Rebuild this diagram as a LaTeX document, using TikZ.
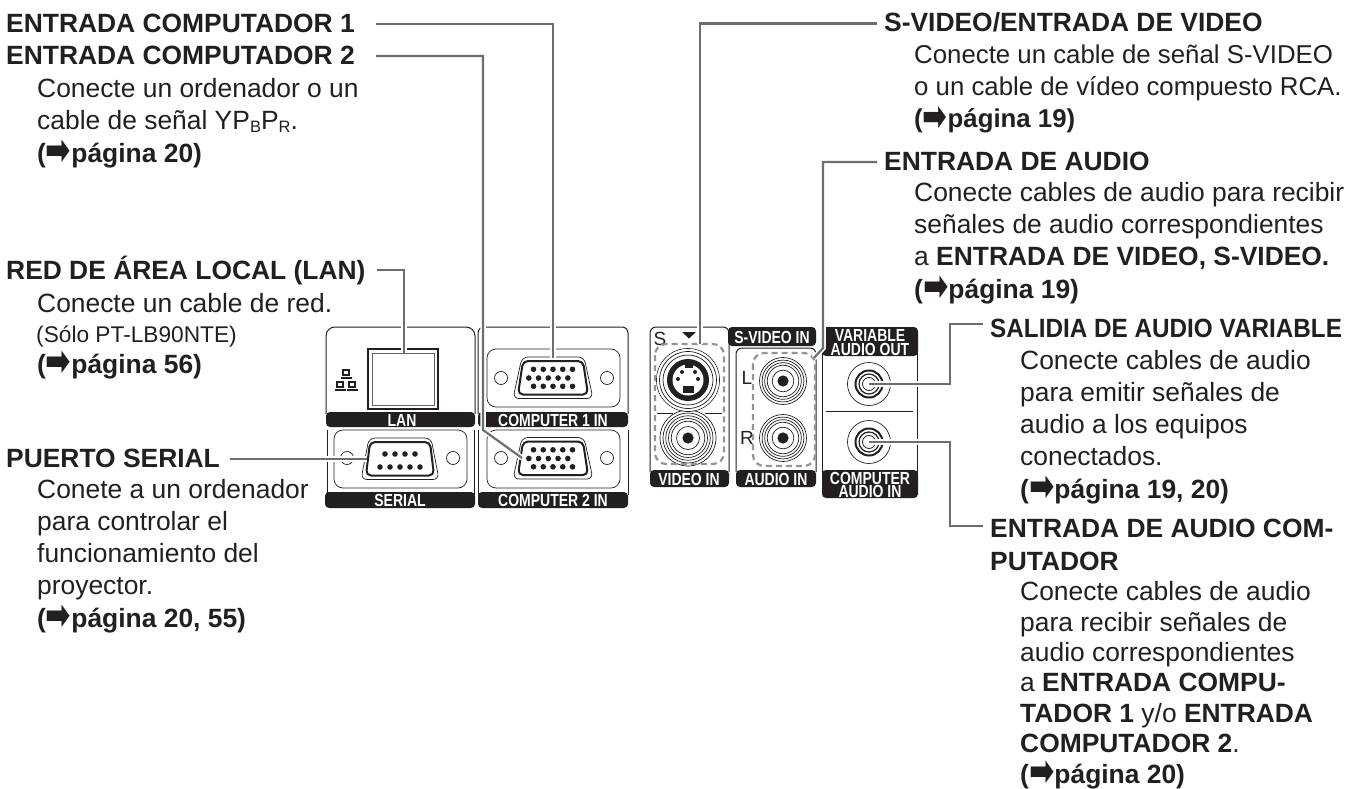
\documentclass[tikz,border=0pt]{standalone}
\usepackage{graphicx}
\usepackage{fontspec}
\setmainfont{Liberation Sans}
\newfontfamily\condfont[FakeStretch=0.8]{Liberation Sans}
\newfontfamily\symfont{DejaVu Sans}
\usetikzlibrary{positioning}
\definecolor{ink}{HTML}{231F20}
\definecolor{leader}{HTML}{6D6E71}
\definecolor{dashgrey}{HTML}{939598}
\newcommand{\pg}[1]{\textbf{(\smash{\raisebox{-0.11em}{\scalebox{1.15}[1.6]{\symfont\char"27A1}}}página #1)}}
\newcommand{\lowsub}[1]{\raisebox{-0.12em}{\fontsize{16.5}{16.5}\selectfont #1}}
\tikzset{
  txt/.style={anchor=base west,inner sep=0pt,align=left,text=ink,font=\fontsize{26.4}{32.2}\selectfont},
  head/.style={txt,font=\fontsize{26.4}{32.6}\selectfont\bfseries},
  small/.style={txt,font=\fontsize{22.7}{32}\selectfont},
  narrowtxt/.style={txt,font=\fontsize{25.8}{32}\selectfont},
  tighttxt/.style={txt,font=\fontsize{26.4}{30.4}\selectfont},
  band/.style={fill=ink,draw=none,rounded corners=4pt},
  bandtext/.style={text=white,inner sep=0pt,align=center,yshift=-0.4pt,font=\fontsize{17.5}{13.5}\selectfont\condfont\bfseries},
  edge/.style={draw=ink,line width=1pt,rounded corners=6pt},
  inner/.style={draw=ink,line width=0.7pt,rounded corners=9pt},
  leaderline/.style={draw=leader,line width=2.2pt,preaction={draw=white,line width=5.5pt}},
  dashbox/.style={draw=dashgrey,line width=2.2pt,dash pattern=on 6pt off 4pt,rounded corners=11pt},
  portlabel/.style={inner sep=0pt,text=ink,font=\fontsize{19}{19}\selectfont}
}
% D-sub shell: centre x, centre y, half width top, half width bottom
\newcommand{\dsub}[4]{
  \draw[ink,line width=0.7pt,rounded corners=6pt] (#1-#4-5,#2+20.5) -- (#1-#3-1,#2-21) -- (#1+#3+1,#2-21) -- (#1+#4+5,#2+20.5) -- cycle;
  \draw[ink,line width=2pt,rounded corners=5pt] (#1-#4,#2+16.5) -- (#1-#3,#2-17) -- (#1+#3,#2-17) -- (#1+#4,#2+16.5) -- cycle;
}
\newcommand{\vgapins}[2]{
  \foreach \dx in {-19.5,-9.75,0,9.75,19.5}{
    \fill[ink] (#1+\dx,#2-8.7) circle (2.8);
    \fill[ink] (#1+\dx,#2+8.3) circle (2.8);
    \fill[ink] (#1+\dx-4.7,#2) circle (2.8);
  }
}
\newcommand{\rca}[3]{
  \foreach \r in {#3,#3*0.89,#3*0.78,#3*0.67,#3*0.46}{\draw[ink,line width=0.7pt,fill=white] (#1,#2) circle (\r);}
  \fill[ink] (#1,#2) circle (5.6);
}
\newcommand{\jack}[2]{
  \draw[ink,line width=0.7pt] (#1,#2) circle (21.5);
  \draw[ink,line width=2pt] (#1,#2) circle (13.5);
  \draw[ink,line width=1.2pt] (#1,#2) circle (10);
  \draw[ink,line width=0.8pt] (#1,#2) circle (6.5);
}
\newcommand{\minipc}[2]{
  \fill[ink] (#1-4,#2-4) rectangle (#1+4,#2+3);
  \fill[white] (#1-2,#2-2) rectangle (#1+2,#2+1);
  \fill[ink] (#1-5.5,#2+3.6) rectangle (#1+5.5,#2+5.5);
}
\begin{document}
\begin{tikzpicture}[x=1pt,y=-1pt]
  \useasboundingbox (0,0) rectangle (1359,789);

  % LAN and SERIAL
  \draw[edge,rounded corners=9pt] (326,414) -- (326,327) -- (475,327) -- (475,414);
  \fill[band] (326,412) rectangle (475,427);
  \node[bandtext] (lanband) at (402,420) {LAN};
  \draw[ink,line width=1pt] (327.5,430) -- (327.5,495);
  \draw[inner] (334,488) -- (334,430) -- (467,430) -- (467,488) -- cycle;
  \draw[ink,line width=1pt] (474.5,430) -- (474.5,495);
  \fill[band] (325,492) rectangle (475,508);
  \node[bandtext] (serialband) at (400,500) {SERIAL};
  \draw[ink,line width=1.8pt] (368,349) rectangle (438,409);
  \draw[ink!70,line width=0.9pt] (372,353) rectangle (434,405);
  \minipc{346}{373}
  \minipc{340}{385}
  \minipc{352}{385}
  \dsub{400}{459}{30}{34}
  \foreach \dx in {-15,-5,5,15}{\fill[ink] (400+\dx,454) circle (2.8);}
  \foreach \dx in {-20,-10,0,10,20}{\fill[ink] (400+\dx,467) circle (2.8);}
  \draw[ink,line width=0.7pt] (347,458) circle (6.5);
  \draw[ink,line width=0.7pt] (453,458) circle (6.5);

  % COMPUTER 1 and 2
  \draw[edge] (478,414) -- (478,327) -- (628,327) -- (628,414);
  \fill[band] (478,412) rectangle (628,427);
  \node[bandtext] (comp1band) at (553,420) {COMPUTER 1 IN};
  \draw[inner] (487,349) rectangle (620,407);
  \dsub{553}{378}{30}{35}
  \vgapins{553}{378}
  \draw[ink,line width=0.7pt] (501,378) circle (6.5);
  \draw[ink,line width=0.7pt] (607,378) circle (6.5);
  \draw[ink,line width=1pt] (478.5,430) -- (478.5,495);
  \draw[ink,line width=1pt] (628,430) -- (628,495);
  \fill[band] (478,492) rectangle (628,508);
  \node[bandtext] (comp2band) at (553,500) {COMPUTER 2 IN};
  \draw[inner] (487,430) rectangle (620,488);
  \dsub{553}{458.5}{30}{35}
  \vgapins{553}{458.5}
  \draw[ink,line width=0.7pt] (501,458) circle (6.5);
  \draw[ink,line width=0.7pt] (607,458) circle (6.5);

  % VIDEO IN
  \draw[edge] (650,472) -- (650,327) -- (729,327) -- (729,472);
  \fill[band] (650,470) rectangle (729,487);
  \node[bandtext] (videoband) at (689,479) {VIDEO IN};
  \node[portlabel] (slabel) at (660,339) {S};
  \fill[ink] (682,332) -- (696,332) -- (689,338.5) -- cycle;
  \draw[ink,line width=0.7pt] (657,413) -- (673,413);
  \draw[ink,line width=0.7pt] (705,413) -- (722,413);
  \draw[ink,line width=0.7pt] (688,380) circle (31.5);
  \draw[ink,line width=0.7pt] (688,438) circle (28);
  \fill[white] (688,380) circle (31);
  \draw[ink,line width=0.7pt] (688,380) circle (28.5);
  \draw[ink,line width=0.7pt] (688,380) circle (25);
  \fill[ink] (688,380) circle (21);
  \fill[white] (688,380) circle (15.5);
  \fill[ink] (684.5,363) rectangle (692.5,368);
  \fill[ink] (682.5,386) rectangle (694,393);
  \fill[ink] (678,379) circle (2);
  \fill[ink] (698,379) circle (2);
  \fill[ink] (682,372) circle (2);
  \fill[ink] (695,372) circle (2);
  \rca{688}{438}{25}
  \draw[dashbox] (655,344) rectangle (724,464);

  % S-VIDEO IN and AUDIO IN
  \fill[band] (728,327) rectangle (816,346);
  \node[bandtext] (sband) at (772,337) {S-VIDEO IN};
  \draw[edge] (736,472) -- (736,348) -- (816,348) -- (816,472);
  \fill[band] (736,470) rectangle (816,487);
  \node[bandtext] (audioband) at (776,479) {AUDIO IN};
  \node[portlabel] (llabel) at (747,378) {L};
  \node[portlabel] (rlabel) at (747,438) {R};
  \rca{783}{381}{23.5}
  \rca{783}{438}{23.5}
  \draw[dashbox] (753,353) rectangle (815,466);

  % VARIABLE / COMPUTER AUDIO
  \draw[ink,line width=1pt] (822.5,350) -- (822.5,475);
  \draw[ink,line width=1pt] (917,350) -- (917,475);
  \fill[band] (822,327) rectangle (918,356);
  \node[bandtext] (varband) at (870,342) {VARIABLE\\AUDIO OUT};
  \fill[band] (822,470) rectangle (918,498);
  \node[bandtext] (caband) at (870,484.5) {COMPUTER\\AUDIO IN};
  \draw[ink,line width=1pt] (826,411) -- (913,411);
  \jack{869}{384}
  \jack{869}{442}

  % text, left
  \node[head] (comp1) at (6,33) {ENTRADA COMPUTADOR 1};
  \node[head] (comp2) at (6,65) {ENTRADA COMPUTADOR 2};
  \node[txt] (compbody) at (37,162) {Conecte un ordenador o un\\cable de señal YP\lowsub{B}P\lowsub{R}.\\\pg{20}};
  \node[head] (lan) at (6,279) {RED DE ÁREA LOCAL (LAN)};
  \node[txt] (lanbody) at (37,312) {Conecte un cable de red.};
  \node[small] (lannote) at (36,342) {(Sólo PT-LB90NTE)};
  \node[txt] (lanpage) at (37,373) {\pg{56}};
  \node[head] (serial) at (6,467) {PUERTO SERIAL};
  \node[txt] (serialbody) at (37,627) {Conete a un ordenador\\para controlar el\\funcionamiento del\\proyector.\\\pg{20, 55}};

  % text, right
  \node[head] (svideo) at (884,32) {S-VIDEO/ENTRADA DE VIDEO};
  \node[narrowtxt] (svideobody) at (914,128) {Conecte un cable de señal S-VIDEO\\o un cable de vídeo compuesto RCA.\\\pg{19}};
  \node[head] (audio) at (884,170) {ENTRADA DE AUDIO};
  \node[txt] (audiobody) at (914,298) {Conecte cables de audio para recibir\\señales de audio correspondientes\\a \textbf{ENTRADA DE VIDEO, S-VIDEO.}\\\pg{19}};
  \node[head] (varout) at (990,337) {\scalebox{0.92}[1]{SALIDIA DE AUDIO VARIABLE}};
  \node[txt] (varbody) at (1020,498) {Conecte cables de audio\\para emitir señales de\\audio a los equipos\\conectados.\\\pg{19, 20}};
  \node[head] (compaudio) at (990,570) {ENTRADA DE AUDIO COM-\\PUTADOR};
  \node[tighttxt] (compaudiobody) at (1020,783) {Conecte cables de audio\\para recibir señales de\\audio correspondientes\\a \textbf{ENTRADA COMPU-}\\\textbf{TADOR 1} y/o \textbf{ENTRADA}\\\textbf{COMPUTADOR 2}.\\\pg{20}};

  % connectors
  \coordinate (comp1end) at (376,24);
  \coordinate (comp1port) at (553,358);
  \coordinate (comp2end) at (376,56);
  \coordinate (comp2bend) at (483,430);
  \coordinate (comp2port) at (522,458);
  \coordinate (lanend) at (377,270);
  \coordinate (lanport) at (404,353);
  \coordinate (serialend) at (230,459);
  \coordinate (serialport) at (367,459);
  \coordinate (svideoend) at (877,23.5);
  \coordinate (svideoport) at (700,344);
  \coordinate (audioend) at (877,162);
  \coordinate (audiobend) at (823,348);
  \coordinate (audioport) at (814,358);
  \coordinate (varend) at (983,324);
  \coordinate (varport) at (869,384);
  \coordinate (caend) at (983,526);
  \coordinate (caport) at (869,442);
  \draw[leaderline] (comp1end) -| (comp1port);
  \draw[leaderline] (comp2end) -| (comp2bend) -- (comp2port);
  \draw[leaderline] (lanend) -| (lanport);
  \draw[leaderline] (serialend) -- (serialport);
  \draw[leaderline] (svideoend) -| (svideoport);
  \draw[leaderline] (audioend) -| (audiobend) -- (audioport);
  \draw[leaderline] (varend) -| (950,384) -- (varport);
  \draw[leaderline] (caend) -| (950,442) -- (caport);
\end{tikzpicture}
\end{document}
